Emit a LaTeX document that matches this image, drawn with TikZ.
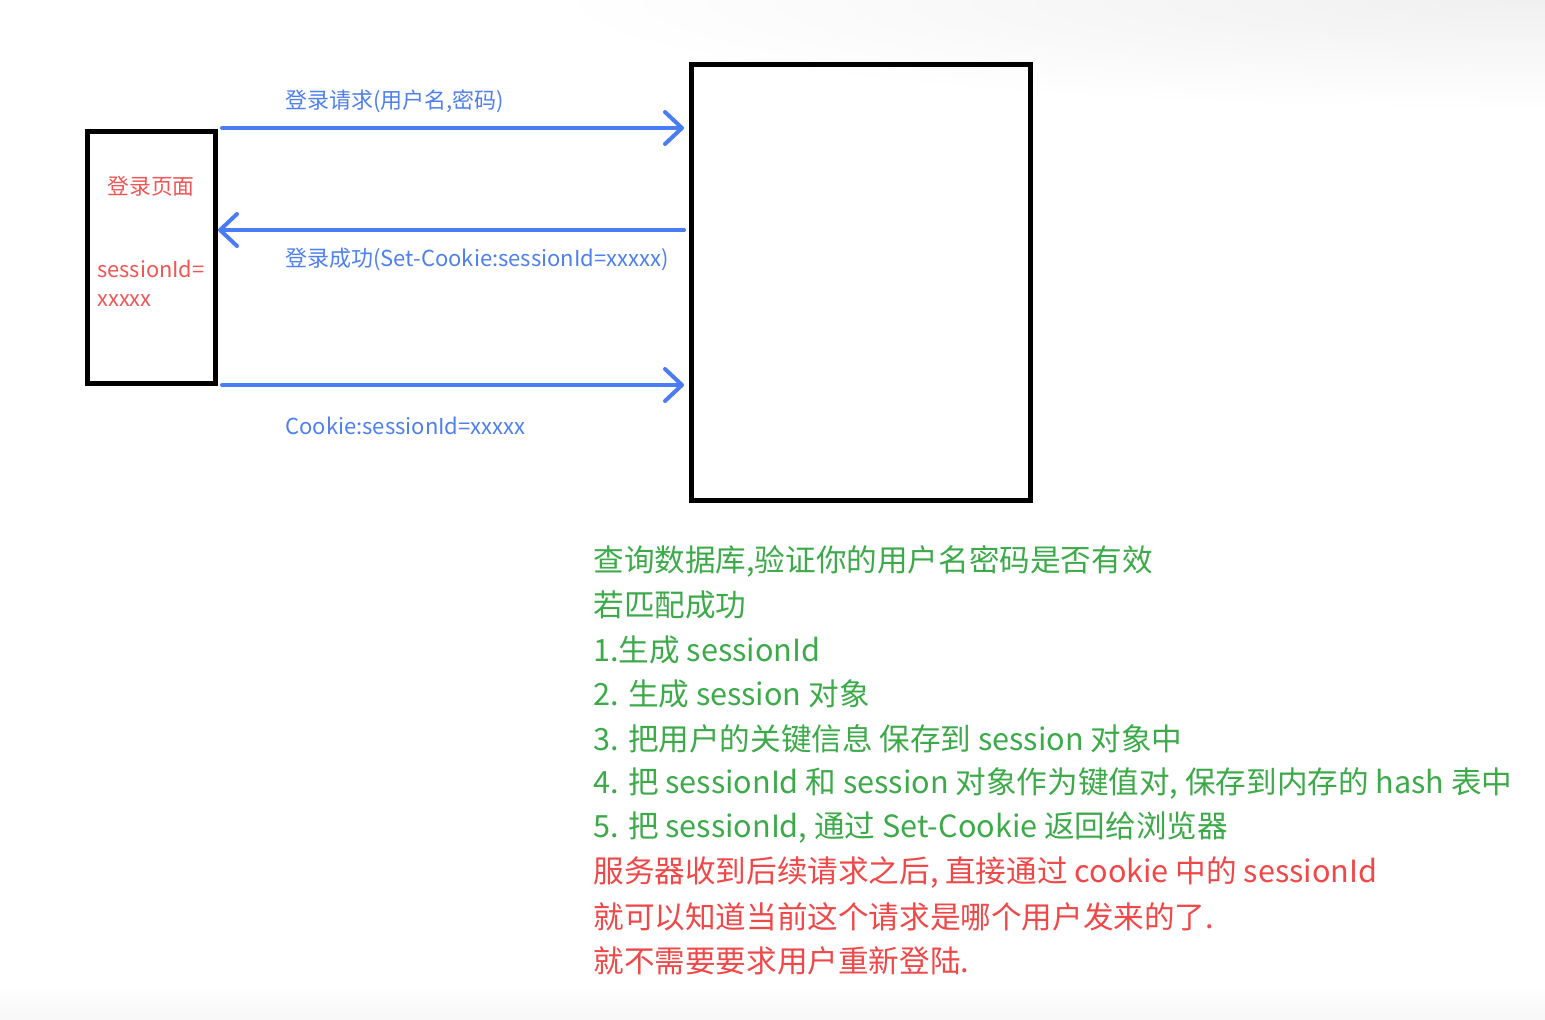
\documentclass[tikz,border=0pt]{standalone}
\usepackage{fontspec}
\setmainfont{Noto Sans CJK SC}
\usetikzlibrary{arrows.meta}
\definecolor{arrowblue}{HTML}{4A7CF6}
\definecolor{txtblue}{HTML}{4F80F0}
\definecolor{txtgreen}{HTML}{3DAA4A}
\definecolor{txtred}{HTML}{F04848}
\definecolor{boxred}{HTML}{F25555}
\tikzset{
  box/.style={draw=black, line width=2.5pt, inner sep=0pt},
  flow/.style={draw=arrowblue, line width=2pt, line cap=round,
    -{Straight Barb[length=8.5pt,width=16pt,line width=2pt,round]}},
  lbl/.style={text=txtblue, anchor=west, inner sep=0pt, font=\fontsize{11pt}{13pt}\selectfont},
  boxlbl/.style={text=boxred, inner sep=0pt, font=\fontsize{10.9pt}{13pt}\selectfont},
  note/.style={anchor=west, inner sep=0pt, font=\fontsize{15.3pt}{18pt}\selectfont},
}
\begin{document}
\begin{tikzpicture}[x=0.5pt, y=-0.5pt]
\useasboundingbox (0,0) rectangle (1545,1019);
\fill[white] (0,0) rectangle (1545,1019);
\begin{scope}
  \clip (0,0) rectangle (1545,1019);
  \shade[inner color=black!6, outer color=white] (1545,0) ellipse [x radius=1000, y radius=110];
  \shade[top color=white, bottom color=black!3] (0,985) rectangle (1545,1019);
\end{scope}
% boxes
\node[box, minimum width=64pt, minimum height=126pt] (client) at (151,257) {};
\node[box, minimum width=169.5pt, minimum height=218pt] (server) at (860.5,282) {};
% box texts
\node[boxlbl] (page) at (151,186) {登录页面};
\node[boxlbl, anchor=west] (sid1) at (97,269) {sessionId=};
\node[boxlbl, anchor=west] (sid2) at (97,301) {xxxxx};
% connector endpoints
\coordinate (r1s) at (222,128);
\coordinate (r1e) at (684,128);
\coordinate (r2s) at (684,230);
\coordinate (r2e) at (218,230);
\coordinate (r3s) at (222,385);
\coordinate (r3e) at (684,385);
\draw[flow] (r1s) -- (r1e);
\draw[flow] (r2s) -- (r2e);
\draw[flow] (r3s) -- (r3e);
% arrow labels
\node[lbl] (l1) at (285,101) {登录请求(用户名,密码)};
\node[lbl] (l2) at (285,259) {登录成功(Set-Cookie:sessionId=xxxxx)};
\node[lbl] (l3) at (285,426) {Cookie:sessionId=xxxxx};
% notes
\node[note, text=txtgreen] (n1) at (593,561) {查询数据库,验证你的用户名密码是否有效};
\node[note, text=txtgreen] (n2) at (593,605) {若匹配成功};
\node[note, text=txtgreen] (n3) at (593,650) {1.生成 sessionId};
\node[note, text=txtgreen] (n4) at (593,694) {2. 生成 session 对象};
\node[note, text=txtgreen] (n5) at (593,739) {3. 把用户的关键信息 保存到 session 对象中};
\node[note, text=txtgreen] (n6) at (593,783) {4. 把 sessionId 和 session 对象作为键值对, 保存到内存的 hash 表中};
\node[note, text=txtgreen] (n7) at (593,828) {5. 把 sessionId, 通过 Set-Cookie 返回给浏览器};
\node[note, text=txtred] (n8) at (593,872) {服务器收到后续请求之后, 直接通过 cookie 中的 sessionId};
\node[note, text=txtred] (n9) at (593,917) {就可以知道当前这个请求是哪个用户发来的了.};
\node[note, text=txtred] (n10) at (593,961) {就不需要要求用户重新登陆.};
\end{tikzpicture}
\end{document}
